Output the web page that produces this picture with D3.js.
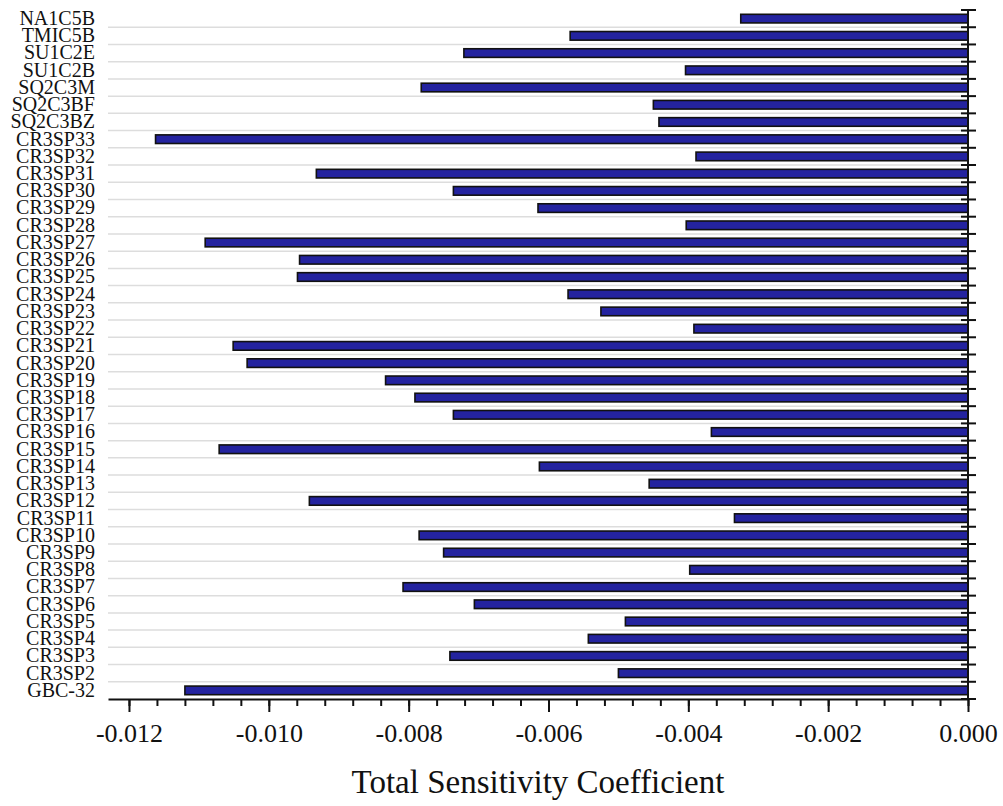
<!DOCTYPE html>
<html>
<head>
<meta charset="utf-8">
<script src="https://cdn.jsdelivr.net/npm/d3@7/dist/d3.min.js"></script>
<style>
  html, body { margin: 0; padding: 0; background: #fff; }
  svg { display: block; font-family: "Liberation Serif", "Times New Roman", serif; }
</style>
</head>
<body>
<svg id="chart"></svg>
<script>
const categories = [
  'NA1C5B', 'TMIC5B', 'SU1C2E', 'SU1C2B', 'SQ2C3M', 'SQ2C3BF', 'SQ2C3BZ',
  'CR3SP33', 'CR3SP32', 'CR3SP31', 'CR3SP30', 'CR3SP29', 'CR3SP28', 'CR3SP27',
  'CR3SP26', 'CR3SP25', 'CR3SP24', 'CR3SP23', 'CR3SP22', 'CR3SP21', 'CR3SP20',
  'CR3SP19', 'CR3SP18', 'CR3SP17', 'CR3SP16', 'CR3SP15', 'CR3SP14', 'CR3SP13',
  'CR3SP12', 'CR3SP11', 'CR3SP10', 'CR3SP9', 'CR3SP8', 'CR3SP7', 'CR3SP6',
  'CR3SP5', 'CR3SP4', 'CR3SP3', 'CR3SP2', 'GBC-32'
];

const values = [
  -0.00325, -0.00569, -0.00721, -0.00404, -0.00782, -0.00450, -0.00442,
  -0.01162, -0.00389, -0.00932, -0.00736, -0.00615, -0.00403, -0.01091,
  -0.00956, -0.00959, -0.00572, -0.00525, -0.00392, -0.01051, -0.01031,
  -0.00833, -0.00791, -0.00736, -0.00367, -0.01071, -0.00613, -0.00456,
  -0.00942, -0.00334, -0.00785, -0.00750, -0.00398, -0.00808, -0.00706,
  -0.00490, -0.00543, -0.00741, -0.00500, -0.01120
];

const xTicks = [-0.012, -0.010, -0.008, -0.006, -0.004, -0.002, 0.000];
const xMinor = d3.range(-0.012, 0.0001, 0.0004);
const xTitle = 'Total Sensitivity Coefficient';

const width = 1003, height = 806;
const plotLeft = 108, plotRight = 968, plotTop = 10, plotBottom = 699;

const data = categories.map((c, i) => ({ label: c, value: values[i] }));

const svg = d3.select('#chart')
  .attr('width', width)
  .attr('height', height);

svg.append('rect')
  .attr('width', width)
  .attr('height', height)
  .attr('fill', '#fff');

const x = d3.scaleLinear()
  .domain([-0.0123, 0])
  .range([plotLeft, plotRight]);

const y = d3.scaleBand()
  .domain(categories)
  .range([plotTop, plotBottom])
  .paddingInner(0.5)
  .paddingOuter(0.25);

// row boundaries (used for grid lines and the right-hand ticks)
const edge = i => plotTop + i * y.step();
const edges = d3.range(categories.length + 1);

svg.append('g')
  .selectAll('line')
  .data(edges.slice(1, -1))
  .enter()
  .append('line')
  .attr('x1', plotLeft)
  .attr('x2', plotRight)
  .attr('y1', d => edge(d))
  .attr('y2', d => edge(d))
  .attr('stroke', '#dddddd')
  .attr('stroke-width', 1.5);

svg.append('g')
  .selectAll('rect')
  .data(data)
  .enter()
  .append('rect')
  .attr('x', d => x(d.value))
  .attr('y', d => y(d.label))
  .attr('width', d => x(0) - x(d.value))
  .attr('height', y.bandwidth())
  .attr('fill', '#24239f')
  .attr('stroke', '#111')
  .attr('stroke-width', 1.6);

// category labels
const yAxis = svg.append('g')
  .attr('transform', `translate(${plotLeft},0)`)
  .call(d3.axisLeft(y).tickSize(0).tickPadding(13));
yAxis.select('.domain').remove();
yAxis.selectAll('text')
  .style('font-size', '20px')
  .style('font-family', '"Liberation Serif", "Times New Roman", serif')
  .attr('fill', '#111');

// bottom axis: minor then major ticks
const minorAxis = svg.append('g')
  .attr('transform', `translate(0,${plotBottom})`)
  .call(d3.axisBottom(x).tickValues(xMinor).tickSize(7).tickFormat(''));
minorAxis.select('.domain').remove();
minorAxis.selectAll('line').attr('stroke', '#111').attr('stroke-width', 2);

const fmt = d => d3.format('.3f')(d).replace('\u2212', '-');
const xAxis = svg.append('g')
  .attr('transform', `translate(0,${plotBottom})`)
  .call(d3.axisBottom(x).tickValues(xTicks).tickSize(13).tickSizeOuter(0).tickPadding(11.5).tickFormat(fmt));
xAxis.select('.domain').attr('stroke', '#111').attr('stroke-width', 2);
xAxis.selectAll('line').attr('stroke', '#111').attr('stroke-width', 2);
xAxis.selectAll('text')
  .style('font-size', '26px')
  .style('font-family', '"Liberation Serif", "Times New Roman", serif')
  .attr('fill', '#111');

// right-hand axis with crossing ticks at each row boundary
svg.append('line')
  .attr('x1', plotRight).attr('x2', plotRight)
  .attr('y1', plotTop).attr('y2', plotBottom)
  .attr('stroke', '#111')
  .attr('stroke-width', 2);

svg.append('g')
  .selectAll('line')
  .data(edges)
  .enter()
  .append('line')
  .attr('x1', plotRight - 7)
  .attr('x2', plotRight + 8)
  .attr('y1', d => edge(d))
  .attr('y2', d => edge(d))
  .attr('stroke', '#111')
  .attr('stroke-width', 2);

svg.append('text')
  .attr('x', (plotLeft + plotRight) / 2)
  .attr('y', 793)
  .attr('text-anchor', 'middle')
  .style('font-size', '33px')
  .attr('fill', '#111')
  .text(xTitle);
</script>
</body>
</html>
